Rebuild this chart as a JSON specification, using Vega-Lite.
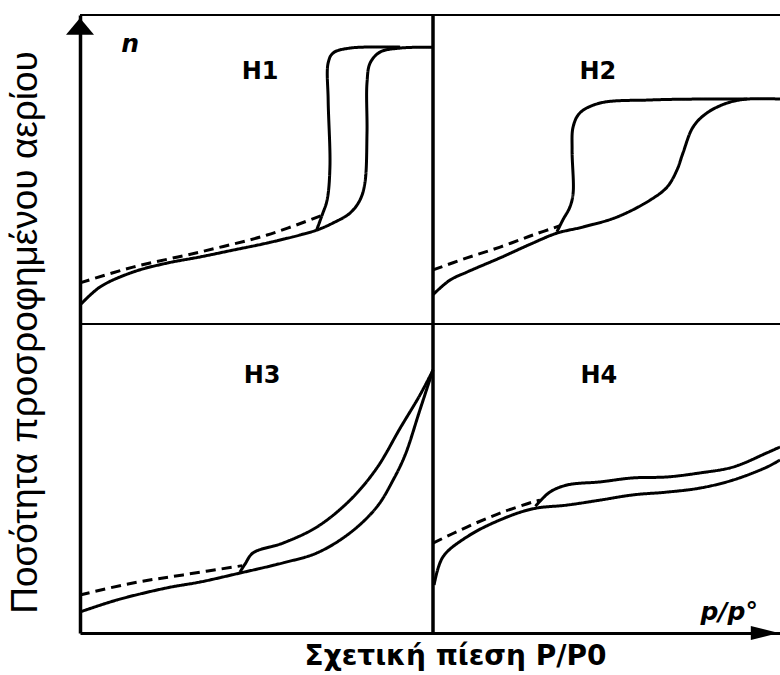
{
  "$schema": "https://vega.github.io/schema/vega-lite/v6.json",
  "width": 700,
  "height": 618,
  "autosize": {"type": "none"},
  "padding": {"left": 80, "top": 15, "right": 0, "bottom": 42},
  "background": "white",
  "config": {"view": {"stroke": null}},
  "datasets": {
    "curves": [
      {"loop":"H1","branch":"adsorption","i":0,"p":0.0,"n":1.061},
      {"loop":"H1","branch":"adsorption","i":1,"p":0.057,"n":1.120},
      {"loop":"H1","branch":"adsorption","i":2,"p":0.150,"n":1.168},
      {"loop":"H1","branch":"adsorption","i":3,"p":0.246,"n":1.197},
      {"loop":"H1","branch":"adsorption","i":4,"p":0.340,"n":1.217},
      {"loop":"H1","branch":"adsorption","i":5,"p":0.433,"n":1.239},
      {"loop":"H1","branch":"adsorption","i":6,"p":0.530,"n":1.262},
      {"loop":"H1","branch":"adsorption","i":7,"p":0.623,"n":1.288},
      {"loop":"H1","branch":"adsorption","i":8,"p":0.671,"n":1.304},
      {"loop":"H1","branch":"adsorption","i":9,"p":0.717,"n":1.327},
      {"loop":"H1","branch":"adsorption","i":10,"p":0.765,"n":1.359},
      {"loop":"H1","branch":"adsorption","i":11,"p":0.793,"n":1.401},
      {"loop":"H1","branch":"adsorption","i":12,"p":0.807,"n":1.456},
      {"loop":"H1","branch":"adsorption","i":13,"p":0.813,"n":1.618},
      {"loop":"H1","branch":"adsorption","i":14,"p":0.813,"n":1.780},
      {"loop":"H1","branch":"adsorption","i":15,"p":0.822,"n":1.845},
      {"loop":"H1","branch":"adsorption","i":16,"p":0.850,"n":1.880},
      {"loop":"H1","branch":"adsorption","i":17,"p":0.907,"n":1.893},
      {"loop":"H1","branch":"adsorption","i":18,"p":1.0,"n":1.896},
      {"loop":"H1","branch":"desorption","i":0,"p":0.907,"n":1.896},
      {"loop":"H1","branch":"desorption","i":1,"p":0.765,"n":1.893},
      {"loop":"H1","branch":"desorption","i":2,"p":0.717,"n":1.877},
      {"loop":"H1","branch":"desorption","i":3,"p":0.703,"n":1.845},
      {"loop":"H1","branch":"desorption","i":4,"p":0.703,"n":1.725},
      {"loop":"H1","branch":"desorption","i":5,"p":0.708,"n":1.508},
      {"loop":"H1","branch":"desorption","i":6,"p":0.700,"n":1.401},
      {"loop":"H1","branch":"desorption","i":7,"p":0.686,"n":1.353},
      {"loop":"H1","branch":"desorption","i":8,"p":0.671,"n":1.306},
      {"loop":"H1","branch":"low-pressure","i":0,"p":0.0,"n":1.133},
      {"loop":"H1","branch":"low-pressure","i":1,"p":0.150,"n":1.184},
      {"loop":"H1","branch":"low-pressure","i":2,"p":0.340,"n":1.233},
      {"loop":"H1","branch":"low-pressure","i":3,"p":0.530,"n":1.288},
      {"loop":"H1","branch":"low-pressure","i":4,"p":0.682,"n":1.350},

      {"loop":"H2","branch":"adsorption","i":0,"p":1.0,"n":1.095},
      {"loop":"H2","branch":"adsorption","i":1,"p":1.048,"n":1.142},
      {"loop":"H2","branch":"adsorption","i":2,"p":1.096,"n":1.168},
      {"loop":"H2","branch":"adsorption","i":3,"p":1.190,"n":1.214},
      {"loop":"H2","branch":"adsorption","i":4,"p":1.283,"n":1.262},
      {"loop":"H2","branch":"adsorption","i":5,"p":1.351,"n":1.294},
      {"loop":"H2","branch":"adsorption","i":6,"p":1.425,"n":1.314},
      {"loop":"H2","branch":"adsorption","i":7,"p":1.521,"n":1.346},
      {"loop":"H2","branch":"adsorption","i":8,"p":1.615,"n":1.401},
      {"loop":"H2","branch":"adsorption","i":9,"p":1.663,"n":1.443},
      {"loop":"H2","branch":"adsorption","i":10,"p":1.691,"n":1.498},
      {"loop":"H2","branch":"adsorption","i":11,"p":1.708,"n":1.553},
      {"loop":"H2","branch":"adsorption","i":12,"p":1.737,"n":1.638},
      {"loop":"H2","branch":"adsorption","i":13,"p":1.776,"n":1.683},
      {"loop":"H2","branch":"adsorption","i":14,"p":1.833,"n":1.715},
      {"loop":"H2","branch":"adsorption","i":15,"p":1.890,"n":1.728},
      {"loop":"H2","branch":"adsorption","i":16,"p":1.983,"n":1.728},
      {"loop":"H2","branch":"desorption","i":0,"p":1.890,"n":1.728},
      {"loop":"H2","branch":"desorption","i":1,"p":1.756,"n":1.728},
      {"loop":"H2","branch":"desorption","i":2,"p":1.615,"n":1.725},
      {"loop":"H2","branch":"desorption","i":3,"p":1.473,"n":1.715},
      {"loop":"H2","branch":"desorption","i":4,"p":1.416,"n":1.683},
      {"loop":"H2","branch":"desorption","i":5,"p":1.397,"n":1.638},
      {"loop":"H2","branch":"desorption","i":6,"p":1.394,"n":1.563},
      {"loop":"H2","branch":"desorption","i":7,"p":1.397,"n":1.424},
      {"loop":"H2","branch":"desorption","i":8,"p":1.388,"n":1.379},
      {"loop":"H2","branch":"desorption","i":9,"p":1.368,"n":1.337},
      {"loop":"H2","branch":"desorption","i":10,"p":1.351,"n":1.298},
      {"loop":"H2","branch":"low-pressure","i":0,"p":1.0,"n":1.175},
      {"loop":"H2","branch":"low-pressure","i":1,"p":1.096,"n":1.214},
      {"loop":"H2","branch":"low-pressure","i":2,"p":1.190,"n":1.249},
      {"loop":"H2","branch":"low-pressure","i":3,"p":1.283,"n":1.288},
      {"loop":"H2","branch":"low-pressure","i":4,"p":1.360,"n":1.318},

      {"loop":"H3","branch":"adsorption","i":0,"p":0.0,"n":0.068},
      {"loop":"H3","branch":"adsorption","i":1,"p":0.105,"n":0.107},
      {"loop":"H3","branch":"adsorption","i":2,"p":0.246,"n":0.146},
      {"loop":"H3","branch":"adsorption","i":3,"p":0.340,"n":0.165},
      {"loop":"H3","branch":"adsorption","i":4,"p":0.453,"n":0.194},
      {"loop":"H3","branch":"adsorption","i":5,"p":0.575,"n":0.227},
      {"loop":"H3","branch":"adsorption","i":6,"p":0.671,"n":0.259},
      {"loop":"H3","branch":"adsorption","i":7,"p":0.765,"n":0.324},
      {"loop":"H3","branch":"adsorption","i":8,"p":0.841,"n":0.408},
      {"loop":"H3","branch":"adsorption","i":9,"p":0.887,"n":0.495},
      {"loop":"H3","branch":"adsorption","i":10,"p":0.921,"n":0.576},
      {"loop":"H3","branch":"adsorption","i":11,"p":0.963,"n":0.722},
      {"loop":"H3","branch":"adsorption","i":12,"p":1.0,"n":0.851},
      {"loop":"H3","branch":"desorption","i":0,"p":1.0,"n":0.851},
      {"loop":"H3","branch":"desorption","i":1,"p":0.963,"n":0.770},
      {"loop":"H3","branch":"desorption","i":2,"p":0.907,"n":0.663},
      {"loop":"H3","branch":"desorption","i":3,"p":0.841,"n":0.534},
      {"loop":"H3","branch":"desorption","i":4,"p":0.765,"n":0.430},
      {"loop":"H3","branch":"desorption","i":5,"p":0.671,"n":0.343},
      {"loop":"H3","branch":"desorption","i":6,"p":0.575,"n":0.291},
      {"loop":"H3","branch":"desorption","i":7,"p":0.490,"n":0.259},
      {"loop":"H3","branch":"desorption","i":8,"p":0.467,"n":0.222},
      {"loop":"H3","branch":"desorption","i":9,"p":0.453,"n":0.197},
      {"loop":"H3","branch":"low-pressure","i":0,"p":0.0,"n":0.123},
      {"loop":"H3","branch":"low-pressure","i":1,"p":0.150,"n":0.162},
      {"loop":"H3","branch":"low-pressure","i":2,"p":0.292,"n":0.188},
      {"loop":"H3","branch":"low-pressure","i":3,"p":0.460,"n":0.218},

      {"loop":"H4","branch":"adsorption","i":0,"p":1.003,"n":0.155},
      {"loop":"H4","branch":"adsorption","i":1,"p":1.028,"n":0.246},
      {"loop":"H4","branch":"adsorption","i":2,"p":1.096,"n":0.311},
      {"loop":"H4","branch":"adsorption","i":3,"p":1.190,"n":0.366},
      {"loop":"H4","branch":"adsorption","i":4,"p":1.283,"n":0.402},
      {"loop":"H4","branch":"adsorption","i":5,"p":1.380,"n":0.414},
      {"loop":"H4","branch":"adsorption","i":6,"p":1.473,"n":0.430},
      {"loop":"H4","branch":"adsorption","i":7,"p":1.567,"n":0.447},
      {"loop":"H4","branch":"adsorption","i":8,"p":1.663,"n":0.456},
      {"loop":"H4","branch":"adsorption","i":9,"p":1.756,"n":0.469},
      {"loop":"H4","branch":"adsorption","i":10,"p":1.850,"n":0.495},
      {"loop":"H4","branch":"adsorption","i":11,"p":1.946,"n":0.537},
      {"loop":"H4","branch":"adsorption","i":12,"p":1.983,"n":0.560},
      {"loop":"H4","branch":"desorption","i":0,"p":1.290,"n":0.410},
      {"loop":"H4","branch":"desorption","i":1,"p":1.331,"n":0.456},
      {"loop":"H4","branch":"desorption","i":2,"p":1.380,"n":0.479},
      {"loop":"H4","branch":"desorption","i":3,"p":1.473,"n":0.489},
      {"loop":"H4","branch":"desorption","i":4,"p":1.567,"n":0.502},
      {"loop":"H4","branch":"desorption","i":5,"p":1.663,"n":0.505},
      {"loop":"H4","branch":"desorption","i":6,"p":1.756,"n":0.518},
      {"loop":"H4","branch":"desorption","i":7,"p":1.850,"n":0.537},
      {"loop":"H4","branch":"desorption","i":8,"p":1.946,"n":0.583},
      {"loop":"H4","branch":"desorption","i":9,"p":1.983,"n":0.602},
      {"loop":"H4","branch":"low-pressure","i":0,"p":1.0,"n":0.291},
      {"loop":"H4","branch":"low-pressure","i":1,"p":1.096,"n":0.343},
      {"loop":"H4","branch":"low-pressure","i":2,"p":1.190,"n":0.388},
      {"loop":"H4","branch":"low-pressure","i":3,"p":1.283,"n":0.424},
      {"loop":"H4","branch":"low-pressure","i":4,"p":1.303,"n":0.430}
    ],
    "loops": [
      {"loop":"H1","p":0.510,"n":1.814},
      {"loop":"H2","p":1.467,"n":1.814},
      {"loop":"H3","p":0.516,"n":0.832},
      {"loop":"H4","p":1.470,"n":0.832}
    ],
    "symbols": [
      {"symbol":"n","p":0.142,"n":1.906},
      {"symbol":"p/p°","p":1.839,"n":0.068}
    ]
  },
  "layer": [
    {
      "data": {"name": "curves"},
      "mark": {"type": "line", "color": "black", "strokeWidth": 3, "interpolate": "catmull-rom"},
      "encoding": {
        "x": {"field": "p", "type": "quantitative",
              "scale": {"domain": [0, 1.983], "nice": false, "zero": false},
              "axis": {"title": "Σχετική πίεση P/P0", "labels": false, "ticks": false, "grid": false,
                       "domainColor": "black", "domainWidth": 3,
                       "titleFont": "DejaVu Sans", "titleFontWeight": "bold", "titleFontSize": 28, "titleColor": "black",
                       "titleX": 375, "titleY": 31, "titleAlign": "center", "titleBaseline": "alphabetic"}},
        "y": {"field": "n", "type": "quantitative",
              "scale": {"domain": [0, 2], "nice": false, "zero": false},
              "axis": {"title": "Ποσότητα προσροφημένου αερίου", "labels": false, "ticks": false, "grid": false,
                       "domainColor": "black", "domainWidth": 3.5,
                       "titleFont": "Liberation Sans", "titleFontWeight": "normal", "titleFontSize": 37, "titleColor": "black",
                       "titleAngle": 270, "titleX": -55, "titleY": 317, "titleAlign": "center", "titleBaseline": "middle"}},
        "detail": [{"field": "loop"}, {"field": "branch"}],
        "strokeDash": {"field": "branch", "type": "nominal",
                       "scale": {"domain": ["adsorption", "desorption", "low-pressure"], "range": [[1, 0], [1, 0], [10, 6]]},
                       "legend": null},
        "order": {"field": "i", "type": "quantitative"}
      }
    },
    {
      "data": {"values": [{}]},
      "mark": {"type": "rule", "color": "black", "strokeWidth": 3.5},
      "encoding": {"x": {"datum": 1}}
    },
    {
      "data": {"values": [{}]},
      "mark": {"type": "rule", "color": "black", "strokeWidth": 2},
      "encoding": {"y": {"datum": 1}}
    },
    {
      "data": {"values": [{}]},
      "mark": {"type": "rule", "color": "black", "strokeWidth": 2},
      "encoding": {"y": {"datum": 2}}
    },
    {
      "data": {"values": [{}]},
      "mark": {"type": "point", "shape": "M0,-1L1,0.2L-1,0.2Z", "filled": true, "size": 784, "color": "black", "opacity": 1},
      "encoding": {"x": {"datum": 0}, "y": {"datum": 1.945}}
    },
    {
      "data": {"values": [{}]},
      "mark": {"type": "point", "shape": "M1,0L-1,0.5L-1,-0.5Z", "filled": true, "size": 784, "color": "black", "opacity": 1},
      "encoding": {"x": {"datum": 1.94}, "y": {"datum": 0}}
    },
    {
      "data": {"name": "loops"},
      "mark": {"type": "text", "font": "DejaVu Sans", "fontWeight": "bold", "fontSize": 24, "color": "black", "align": "center", "baseline": "middle"},
      "encoding": {"x": {"field": "p", "type": "quantitative"}, "y": {"field": "n", "type": "quantitative"}, "text": {"field": "loop"}}
    },
    {
      "data": {"name": "symbols"},
      "mark": {"type": "text", "font": "DejaVu Sans", "fontWeight": "bold", "fontStyle": "italic", "fontSize": 25, "color": "black", "align": "center", "baseline": "middle"},
      "encoding": {"x": {"field": "p", "type": "quantitative"}, "y": {"field": "n", "type": "quantitative"}, "text": {"field": "symbol"}}
    }
  ]
}
